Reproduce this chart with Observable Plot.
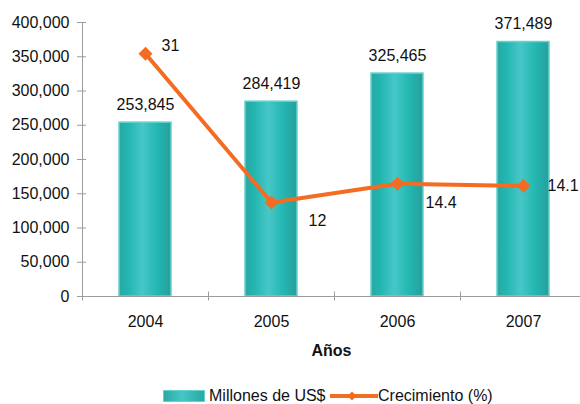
<!DOCTYPE html>
<html>
<head>
<meta charset="utf-8">
<script src="https://cdn.jsdelivr.net/npm/d3@7"></script>
<script src="https://cdn.jsdelivr.net/npm/@observablehq/plot@0.6"></script>
<style>
  html, body { margin: 0; padding: 0; background: #fff; }
  body { width: 580px; height: 404px; overflow: hidden; font-family: "Liberation Sans", Arial, sans-serif; }
  #legend { position: relative; height: 34px; font-size: 16px; color: #111; }
  #legend .item { position: absolute; top: 17px; display: flex; align-items: center; height: 18px; }
</style>
</head>
<body>
<div id="chart"></div>
<div id="legend">
  <div class="item" style="left:163px">
    <svg width="42" height="12" style="margin-right:4px"><defs><linearGradient id="lg" x1="0" x2="1" y1="0" y2="0"><stop offset="0" stop-color="#2aa8a4"/><stop offset="0.45" stop-color="#46c6c6"/><stop offset="1" stop-color="#28a8a4"/></linearGradient></defs><rect x="0.5" y="0.5" width="41" height="11" fill="url(#lg)" stroke="#66d2d0"/></svg>
    <span>Millones de US$</span>
  </div>
  <div class="item" style="left:330px">
    <svg width="48" height="12"><line x1="0" x2="48" y1="6" y2="6" stroke="#f36c21" stroke-width="4"/><path d="M22,1.5L26.5,6L22,10.5L17.5,6Z" fill="#f36c21"/></svg>
    <span>Crecimiento (%)</span>
  </div>
</div>
<script>
const years = ["2004", "2005", "2006", "2007"];
const millones = [253845, 284419, 325465, 371489];
const crecimiento = [31, 12, 14.4, 14.1];
const yTicks = [0, 50000, 100000, 150000, 200000, 250000, 300000, 350000, 400000];
const yMax = 400000;
const y2Max = 35; // secondary axis maximum

const data = years.map((y, i) => ({year: y, value: millones[i], growth: crecimiento[i], g: crecimiento[i] * yMax / y2Max, i}));

const orange = "#f36c21";
const gray = "#9c9c9c";
const font = "Liberation Sans, Arial, sans-serif";

function growthLabel(i, dx, dy) {
  return Plot.text(data.filter(d => d.i === i), {
    x: "year", y: "g", text: d => String(d.growth),
    dx, dy, textAnchor: "start", fontSize: 16, fill: "#111"
  });
}

const plot = Plot.plot({
  width: 580,
  height: 370,
  marginLeft: 82,
  marginRight: 0,
  marginTop: 22,
  marginBottom: 74,
  style: {fontFamily: font, fontSize: "16px", color: "#111", background: "#fff"},
  x: {domain: years, range: [82, 586], paddingInner: 0.587, paddingOuter: 0.2935, label: null},
  y: {domain: [0, yMax], label: null},
  marks: [
    Plot.barY(data, {x: "year", y: "value", fill: "url(#barGrad)", stroke: "#64d2cf", strokeWidth: 1.5}),
    Plot.ruleY([0], {stroke: gray}),
    Plot.ruleX([years[0]], {x: d => d, y1: 0, y2: yMax, dx: -63, stroke: gray}),
    Plot.axisY({ticks: yTicks, tickFormat: d3.format(","), tickSize: 9, dx: 4, tickPadding: 8, stroke: gray, fontSize: 16, label: null, color: "#111"}),
    Plot.axisX({tickSize: 9, dy: -4.5, dx: -63, text: null, stroke: gray, label: null}),
    Plot.axisX({tickSize: 0, tickPadding: 19, fontSize: 16, label: null}),
    Plot.text(data, {x: "year", y: "value", text: d => d3.format(",")(d.value), dy: -13, lineAnchor: "bottom", fontSize: 16, fill: "#111"}),
    Plot.line(data, {x: "year", y: "g", stroke: orange, strokeWidth: 4}),
    Plot.dot(data, {x: "year", y: "g", symbol: "diamond2", r: 6.3, fill: orange, stroke: "none"}),
    growthLabel(0, 16, -8),
    growthLabel(1, 37, 18),
    growthLabel(2, 28, 19),
    growthLabel(3, 24, 0),
    Plot.text(["Años"], {frameAnchor: "bottom", dy: 59, fontWeight: "bold", fontSize: 16, fill: "#111"})
  ]
});

const defs = d3.select(plot).insert("defs", ":first-child");
const grad = defs.append("linearGradient").attr("id", "barGrad").attr("x1", 0).attr("x2", 1).attr("y1", 0).attr("y2", 0);
[[0, "#2ba6a2"], [0.18, "#22b6b1"], [0.45, "#47c7c7"], [0.72, "#24b8b3"], [1, "#279f9b"]]
  .forEach(([o, c]) => grad.append("stop").attr("offset", o).attr("stop-color", c));

document.getElementById("chart").appendChild(plot);
</script>
</body>
</html>
